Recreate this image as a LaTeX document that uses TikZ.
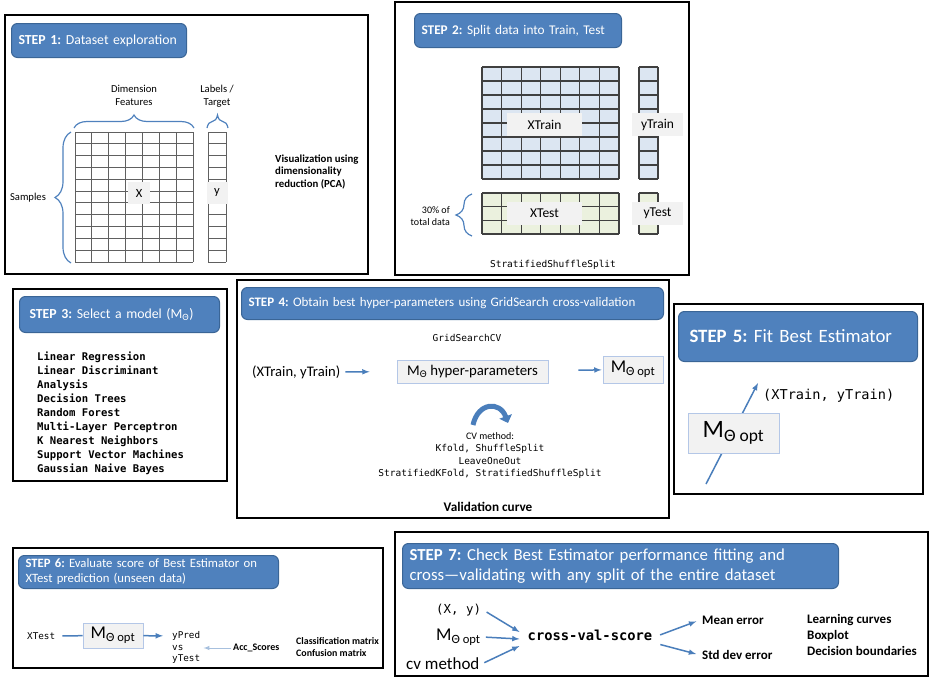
\documentclass[tikz,border=0pt]{standalone}
\usepackage{fontspec}
\setmainfont{Carlito}
\setmonofont{DejaVu Sans Mono}
\usetikzlibrary{decorations.pathreplacing,arrows.meta}
\definecolor{hdrblue}{HTML}{4F81BD}
\definecolor{hdredge}{HTML}{3A6596}
\definecolor{trainblue}{HTML}{DCE6F2}
\definecolor{testgreen}{HTML}{EBF1DE}
\definecolor{labelgray}{HTML}{F2F2F2}
\definecolor{boxedge}{HTML}{B4C7E7}
\definecolor{arrowblue}{HTML}{4A7EBB}
\definecolor{paleblue}{HTML}{A7C0DE}
\definecolor{cellgray}{HTML}{606060}
\newcommand{\fsz}[2]{\fontsize{#1}{#2}\selectfont}

\begin{document}
\frenchspacing
\begin{tikzpicture}[x=1pt, y=-1pt, >=latex,
  panel/.style={draw=black, line width=1.1pt},
  header/.style={draw=hdredge, line width=1pt, fill=hdrblue, rounded corners=6pt,
    text=white, align=left, anchor=north west, inner xsep=7pt, inner ysep=0pt},
  cell/.style={draw=cellgray, line width=0.9pt},
  cellb/.style={draw=black!75, line width=1.1pt},
  tag/.style={fill=labelgray, inner sep=0pt},
  mbox/.style={fill=labelgray, draw=boxedge, line width=0.9pt, inner sep=0pt},
  flow/.style={->, draw=arrowblue, line width=1.5pt},
  brc/.style={decorate, decoration={brace, amplitude=#1}, draw=hdrblue, line width=1.2pt},
  txt/.style={inner sep=2pt}]

\useasboundingbox (0,0) rectangle (935,688);

% STEP 1
\draw [panel] (5,15) rectangle (368,274);
\node (head1) [header, minimum height=34, text width=161, font=\fsz{13.8}{16}] at (11,23) {\textbf{STEP 1:} Dataset exploration};

\foreach \i in {0,...,7} \draw [cell] (75+\i*118/7,132) -- (75+\i*118/7,262);
\foreach \j in {0,...,11} \draw [cell] (75,132+\j*130/11) -- (193,132+\j*130/11);
\foreach \i in {208,226} \draw [cell] (\i,132) -- (\i,262);
\foreach \j in {0,...,11} \draw [cell] (208,132+\j*130/11) -- (226,132+\j*130/11);

\node (xmat) [tag, minimum width=22, minimum height=22, font=\fsz{12.5}{14}] at (139,193) {X};
\node (ycol) [tag, minimum width=21, minimum height=22, font=\fsz{12.5}{14}] at (217,193) {y};
\node (dimfeat) [txt, align=center, font=\fsz{10.6}{12.8}] at (134,95) {Dimension\\Features};
\node (labtarget) [txt, align=center, font=\fsz{10.6}{13.5}] at (217,96) {Labels /\\Target};
\node (samples) [txt, font=\fsz{10.6}{12}] at (28,198) {Samples};
\node (pca) [txt, anchor=west, align=left, font=\bfseries\fsz{10.8}{12.3}] at (273,172) {Visualization using\\dimensionality\\reduction (PCA)};

\draw [brc=13] (74,128) -- (194,128);
\draw [brc=13] (207,128) -- (228,128);
\draw [brc=16] (71,263) -- (71,132);

% STEP 2
\draw [panel] (395,2) rectangle (689,275);
\node (head2) [header, minimum height=34, text width=193, font=\fsz{13.3}{16}] at (414,13) {\textbf{STEP 2:} Split data into Train, Test};

\fill [trainblue] (482,67) rectangle (619,179);
\fill [trainblue] (639,67) rectangle (658,179);
\fill [testgreen] (482,193) rectangle (619,234);
\fill [testgreen] (639,193) rectangle (658,234);
\foreach \i in {0,...,7} \draw [cellb] (482+\i*137/7,67) -- (482+\i*137/7,179);
\foreach \j in {0,...,8} \draw [cellb] (482,67+\j*14) -- (619,67+\j*14);
\foreach \i in {639,658} \draw [cellb] (\i,67) -- (\i,179);
\foreach \j in {0,...,8} \draw [cellb] (639,67+\j*14) -- (658,67+\j*14);
\foreach \i in {0,...,7} \draw [cellb] (482+\i*137/7,193) -- (482+\i*137/7,234);
\foreach \j in {0,...,3} \draw [cellb] (482,193+\j*41/3) -- (619,193+\j*41/3);
\foreach \i in {639,658} \draw [cellb] (\i,193) -- (\i,234);
\foreach \j in {0,...,3} \draw [cellb] (639,193+\j*41/3) -- (658,193+\j*41/3);

\node (xtrain) [tag, minimum width=75, minimum height=23, font=\fsz{13.5}{15}] at (544.5,124.5) {XTrain};
\node (ytrain) [tag, minimum width=51, minimum height=23, font=\fsz{13.5}{15}] at (657.5,124.5) {yTrain};
\node (xtest) [tag, minimum width=75, minimum height=23, font=\fsz{13.5}{15}] at (544.5,213.5) {XTest};
\node (ytest) [tag, minimum width=51, minimum height=23, font=\fsz{13.5}{15}] at (657.5,213.5) {yTest};
\node (share) [txt, anchor=east, align=right, font=\fsz{10}{12}] at (452,216) {30\% of\\total data};
\draw [brc=16] (472,236) -- (472,194);
\node (sss) [txt, font=\ttfamily\fsz{9.5}{12}] at (553,265) {StratifiedShuffleSplit};

% STEP 3
\draw [panel] (13,289) rectangle (227,481);
\node (head3) [header, inner xsep=10pt, minimum height=36, text width=180, font=\fsz{13.8}{16}] at (19,296) {\textbf{STEP 3:} Select a model (M\textsubscript{Θ})};
\node (models) [txt, anchor=north west, align=left, font=\ttfamily\bfseries\fsz{10.6}{13.9}] at (35,350) {Linear Regression\\Linear Discriminant\\Analysis\\Decision Trees\\Random Forest\\Multi-Layer Perceptron\\K Nearest Neighbors\\Support Vector Machines\\Gaussian Naive Bayes};

% STEP 4
\draw [panel] (237,280) rectangle (669,518);
\node (head4) [header, minimum height=32, text width=408, font=\fsz{13}{15}] at (241,287) {\textbf{STEP 4:} Obtain best hyper-parameters using GridSearch cross-validation};
\node (gscv) [txt, font=\ttfamily\fsz{9.5}{12}] at (467,338) {GridSearchCV};
\node (xytrain) [txt, anchor=west, font=\fsz{14.6}{17}] at (250,372) {(XTrain, yTrain)};
\node (hyper) [mbox, minimum width=151, minimum height=23, font=\fsz{14.8}{17}] at (472.5,371.5) {M\textsubscript{Θ} hyper-parameters};
\node (mopt4) [mbox, minimum width=60, minimum height=27, font=\fsz{18}{20}] at (633,369.5) {M\textsubscript{Θ opt}};
\draw [flow, shorten <=3, shorten >=27] (xytrain) -- (hyper);
\draw [flow, shorten <=30, shorten >=1] (hyper) -- (mopt4);
\coordinate (cvl) at (473,425);
\coordinate (cvr) at (508,423);
\draw [line width=5pt, arrowblue, -{Triangle[length=7pt,width=13pt]}] (cvl) .. controls (478,402) and (500,401) .. (cvr);
\node (cvmeth) [txt, align=center, font=\fsz{10}{12.3}] at (490,455.5) {CV method:\\\texttt{\fsz{9.5}{12.3}Kfold, ShuffleSplit}\\\texttt{\fsz{9.5}{12.3}LeaveOneOut}\\\texttt{\fsz{9.5}{12.3}StratifiedKFold, StratifiedShuffleSplit}};
\node (valcurve) [txt, font=\bfseries\fsz{13.2}{15}] at (488,507) {Validation curve};

% STEP 5
\draw [panel] (674,304) rectangle (923,494);
\node (head5) [header, inner xsep=11pt, minimum height=50, text width=217, font=\fsz{18.8}{21}] at (678,311) {\textbf{STEP 5:} Fit Best Estimator};
\coordinate (fitstart) at (706,484);
\coordinate (fitend) at (758,383);
\draw [flow] (fitstart) -- (fitend);
\node (mopt5) [mbox, minimum width=91, minimum height=40, font=\fsz{25}{27}] at (733.5,433) {M\textsubscript{Θ opt}};
\node (xytrain5) [txt, anchor=west, font=\ttfamily\fsz{13.6}{16}] at (761,396) {(XTrain, yTrain)};

% STEP 6
\draw [panel] (13,548) rectangle (383,668);
\node (head6) [header, minimum height=33, text width=246, font=\fsz{12.7}{15}] at (18,555) {\textbf{STEP 6:} Evaluate score of Best Estimator on\\XTest prediction (unseen data)};
\node (xtest6) [txt, anchor=west, font=\ttfamily\fsz{9.3}{11}] at (25,636) {XTest};
\node (mopt6) [mbox, minimum width=60, minimum height=25, font=\fsz{18}{20}] at (113,635.5) {M\textsubscript{Θ opt}};
\node (ypred) [txt, anchor=west, font=\ttfamily\fsz{9.3}{11}] at (170,636) {yPred};
\node (vs) [txt, anchor=west, font=\ttfamily\fsz{9.3}{11}] at (170,648) {vs};
\node (ytest6) [txt, anchor=west, font=\ttfamily\fsz{9.3}{11}] at (170,659.5) {yTest};
\node (accs) [txt, anchor=west, font=\bfseries\fsz{10}{12}] at (231,648) {Acc\_Scores};
\node (cmat) [txt, anchor=west, align=left, font=\bfseries\fsz{9.9}{12.3}] at (294,647) {Classification matrix\\Confusion matrix};
\draw [draw=arrowblue, line width=1.5pt, shorten <=5] (xtest6) -- (mopt6);
\draw [flow, shorten >=7] (mopt6) -- (ypred);
\draw [->, draw=paleblue, line width=1pt, shorten >=18] (accs) -- (vs);

% STEP 7
\draw [panel] (395,532) rectangle (928,676);
\node (head7) [header, minimum height=45, text width=422, font=\fsz{16.8}{19.5}] at (402,543) {\textbf{STEP 7:} Check Best Estimator performance fitting and\\cross—validating with any split of the entire dataset};
\node (xy7) [txt, anchor=west, font=\ttfamily\fsz{12.4}{14}] at (434,610) {(X, y)};
\node (mopt7) [txt, anchor=west, font=\fsz{18}{20}] at (434,637) {M\textsubscript{Θ opt}};
\node (cvm7) [txt, anchor=west, font=\fsz{17}{19}] at (404,664) {cv method};
\node (score) [txt, font=\ttfamily\bfseries\fsz{13.8}{16}] at (590,635) {cross-val-score};
\node (mean) [txt, anchor=west, font=\bfseries\fsz{13}{15}] at (700,620) {Mean error};
\node (stddev) [txt, anchor=west, font=\bfseries\fsz{13}{15}] at (700,655) {Std dev error};
\node (extra) [txt, anchor=west, align=left, font=\bfseries\fsz{13}{15.6}] at (805,635) {Learning curves\\Boxplot\\Decision boundaries};
\draw [flow, shorten <=4] (xy7.east) -- ([xshift=-6pt,yshift=3pt]score.west);
\draw [flow, shorten <=3] (mopt7.east) -- ([xshift=-6pt,yshift=-4pt]score.west);
\draw [flow, shorten <=3] (cvm7.east) -- ([xshift=-6pt,yshift=-11pt]score.west);
\draw [flow, shorten <=6, shorten >=4] ([yshift=-2pt]score.east) -- (mean.west);
\draw [flow, shorten <=6, shorten >=4] ([yshift=-8pt]score.east) -- (stddev.west);

\end{tikzpicture}
\end{document}
